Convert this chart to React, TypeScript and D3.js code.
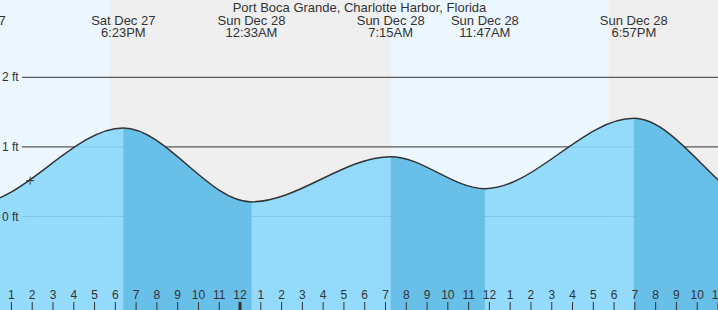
import React, { useEffect } from "react";
import * as d3 from "d3";

const W = 718;
const H = 310;

const title = "Port Boca Grande, Charlotte Harbor, Florida";
const domainTimes = ["2025-12-27T12:27", "2025-12-28T23:00"];
// tide extremes (times and heights in ft)
const tideTimes = [
  "2025-12-27T04:40",
  "2025-12-27T11:11",
  "2025-12-27T18:23",
  "2025-12-28T00:33",
  "2025-12-28T07:15",
  "2025-12-28T11:47",
  "2025-12-28T18:57",
  "2025-12-29T01:30",
  "2025-12-29T08:00",
];
const tideHeights = [0.85, 0.18, 1.27, 0.21, 0.86, 0.4, 1.41, 0.1, 0.9];
// night bands (sunset -> sunrise)
const nightStarts = ["2025-12-27T17:42", "2025-12-28T17:44"];
const nightEnds = ["2025-12-28T07:17", "2025-12-29T07:17"];
const yTicks = [0, 1, 2];
const currentTime = "2025-12-27T13:54";
const currentHeight = 0.515;

const parse = d3.timeParse("%Y-%m-%dT%H:%M");
const fmtDate = d3.timeFormat("%a %b %-d");
const fmtTime = d3.timeFormat("%-I:%M%p");
const fmtHour = d3.timeFormat("%-I");

const FONT = "'Liberation Sans', Arial, Helvetica, sans-serif";

export default function App() {
  useEffect(() => {
    document.body.style.margin = "0";
  }, []);

  const x = d3
    .scaleTime()
    .domain(domainTimes.map((s) => parse(s) as Date))
    .range([0, W]);
  const y = d3.scaleLinear().domain([0, 2]).range([216.5, 77.3]);

  const data = tideTimes.map((t, i) => ({ t: parse(t) as Date, h: tideHeights[i] }));

  const area = d3
    .area<{ t: Date; h: number }>()
    .x((d) => x(d.t))
    .y0(H)
    .y1((d) => y(d.h))
    .curve(d3.curveMonotoneX);
  const line = d3
    .line<{ t: Date; h: number }>()
    .x((d) => x(d.t))
    .y((d) => y(d.h))
    .curve(d3.curveMonotoneX);

  // falling tide intervals: high -> next low
  const falling: { a: number; b: number }[] = [];
  for (let i = 1; i < data.length - 1; i++) {
    if (data[i].h > data[i - 1].h && data[i].h > data[i + 1].h) {
      falling.push({ a: x(data[i].t), b: x(data[i + 1].t) });
    }
  }

  const hours = x.ticks(d3.timeHour.every(1) as any);
  const cx = x(parse(currentTime) as Date);
  const cy = y(currentHeight);
  const labelled = data.filter((d) => x(d.t) > -40 && x(d.t) < W + 30);

  return (
    <svg
      width={W}
      height={H}
      style={{ position: "absolute", left: 0, top: 0, display: "block" }}
      fontFamily={FONT}
    >
      <defs>
        <clipPath id="fallClip">
          {falling.map((f, i) => (
            <rect key={i} x={f.a} y={0} width={f.b - f.a} height={H} />
          ))}
        </clipPath>
      </defs>
      <rect x={0} y={0} width={W} height={H} fill="#edf7ff" />
      {nightStarts.map((s, i) => {
        const a = x(parse(s) as Date);
        const b = x(parse(nightEnds[i]) as Date);
        return <rect key={i} x={a} y={0} width={b - a} height={H} fill="#efefef" />;
      })}
      {yTicks.map((v) => (
        <line key={v} x1={22} x2={W} y1={y(v)} y2={y(v)} stroke="#333" strokeWidth={1} />
      ))}
      <path d={area(data) || ""} fill="#89d7fc" fillOpacity={0.9} />
      <path d={area(data) || ""} fill="#63bbe4" fillOpacity={0.9} clipPath="url(#fallClip)" />
      <path d={line(data) || ""} fill="none" stroke="#333" strokeWidth={1.5} />
      {yTicks.map((v) => (
        <text key={v} x={2} y={y(v) + 4} fontSize={12} fill="#333">
          {v} ft
        </text>
      ))}
      <g stroke="#333" strokeWidth={1}>
        <line x1={cx - 4} x2={cx + 4} y1={cy} y2={cy} />
        <line x1={cx} x2={cx} y1={cy - 4} y2={cy + 4} />
      </g>
      <text x={359.5} y={12} fontSize={13} fill="#333" textAnchor="middle">
        {title}
      </text>
      {labelled.map((d, i) => (
        <g key={i} fontSize={13} fill="#333" textAnchor="middle">
          <text x={x(d.t)} y={25}>
            {fmtDate(d.t)}
          </text>
          <text x={x(d.t)} y={37}>
            {fmtTime(d.t)}
          </text>
        </g>
      ))}
      {hours.map((h, i) => {
        const px = x(h);
        const midnight = h.getHours() === 0;
        return (
          <g key={i}>
            <line
              x1={px}
              x2={px}
              y1={302}
              y2={H}
              stroke="#333"
              strokeWidth={midnight ? 3 : 1}
            />
            <text x={px} y={299} fontSize={12} fill="#333" textAnchor="middle">
              {fmtHour(h)}
            </text>
          </g>
        );
      })}
    </svg>
  );
}
